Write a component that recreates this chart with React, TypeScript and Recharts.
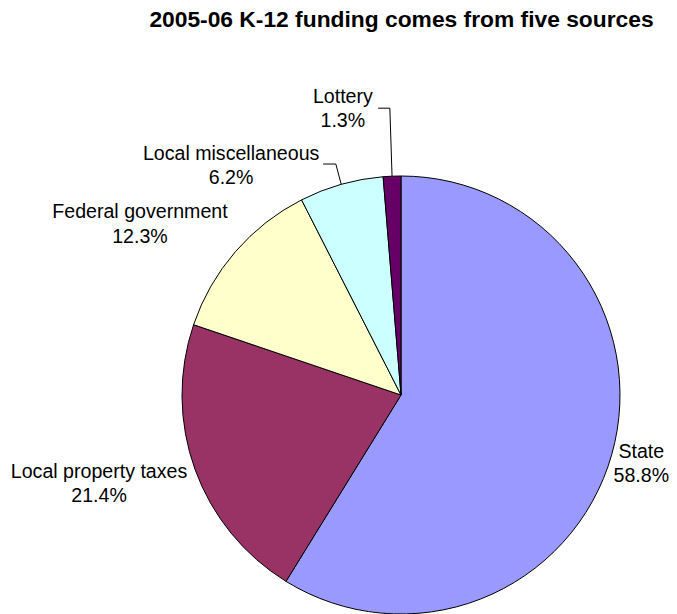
import React from 'react';
import { PieChart, Pie, Cell } from 'recharts';

const titleText = '2005-06 K-12 funding comes from five sources';
const sourceNames = ['State', 'Local property taxes', 'Federal government', 'Local miscellaneous', 'Lottery'];
const sharePercents = [58.8, 21.4, 12.3, 6.2, 1.3];
const sliceColors = ['#9999FF', '#993366', '#FFFFCC', '#CCFFFF', '#660066'];

// label placement relative to the slice's outer mid-point
const labelOffsets = [
  { dx: 29.6, dy: 8.4 },
  { dx: -95.9, dy: 13.8 },
  { dx: -95.4, dy: -28 },
  { dx: -110.1, dy: -19.5 },
  { dx: -49.2, dy: -68.2 },
];
const leaderLines: (null | { ex: number; ey: number; fx: number; fy: number })[] = [
  null,
  null,
  null,
  { ex: -5.4, ey: -20.3, fx: -18.1, fy: -20.3 },
  { ex: -2.2, ey: -68, fx: -13.9, fy: -68 },
];

const data = sourceNames.map((name, i) => ({ name, value: sharePercents[i] }));

const RAD = Math.PI / 180;
const FS = 19.6;
const LINE = 24.5;

const renderLabel = (props: any) => {
  const { cx, cy, midAngle, outerRadius, index } = props;
  const ax = cx + outerRadius * Math.cos(-midAngle * RAD);
  const ay = cy + outerRadius * Math.sin(-midAngle * RAD);
  const off = labelOffsets[index];
  const lx = ax + off.dx;
  const ly = ay + off.dy;
  const capHalf = 0.358 * FS;
  const ll = leaderLines[index];
  return (
    <g key={`lab-${index}`}>
      {ll && (
        <polyline
          points={`${ax},${ay} ${ax + ll.ex},${ay + ll.ey} ${ax + ll.fx},${ay + ll.fy}`}
          fill="none"
          stroke="#000"
          strokeWidth={1}
        />
      )}
      <text
        x={lx}
        y={ly - LINE / 2 + capHalf}
        textAnchor="middle"
        fontFamily="'Liberation Sans', Arial, sans-serif"
        fontSize={FS}
        fill="#000"
      >
        {sourceNames[index]}
      </text>
      <text
        x={lx}
        y={ly + LINE / 2 + capHalf}
        textAnchor="middle"
        fontFamily="'Liberation Sans', Arial, sans-serif"
        fontSize={FS}
        fill="#000"
      >
        {sharePercents[index].toFixed(1)}%
      </text>
    </g>
  );
};

export default function App() {
  return (
    <div style={{ position: 'relative', width: 661, height: 606, background: '#fff' }}>
      <div
        style={{
          position: 'absolute',
          left: 93.5,
          top: 0,
          width: 600,
          textAlign: 'center',
          fontFamily: "'Liberation Sans', Arial, sans-serif",
          fontWeight: 'bold',
          fontSize: 22.8,
          lineHeight: '1',
          whiteSpace: 'nowrap',
          color: '#000',
        }}
      >
        {titleText}
      </div>
      <PieChart width={661} height={606} margin={{ top: 0, right: 0, bottom: 0, left: 0 }}>
        <Pie
          data={data}
          dataKey="value"
          nameKey="name"
          cx={393}
          cy={387}
          outerRadius={219}
          innerRadius={0}
          startAngle={90}
          endAngle={-270}
          stroke="#000"
          strokeWidth={1}
          isAnimationActive={false}
          label={renderLabel}
          labelLine={false}
        >
          {data.map((d, i) => (
            <Cell key={d.name} fill={sliceColors[i]} stroke="#000" />
          ))}
        </Pie>
      </PieChart>
    </div>
  );
}
